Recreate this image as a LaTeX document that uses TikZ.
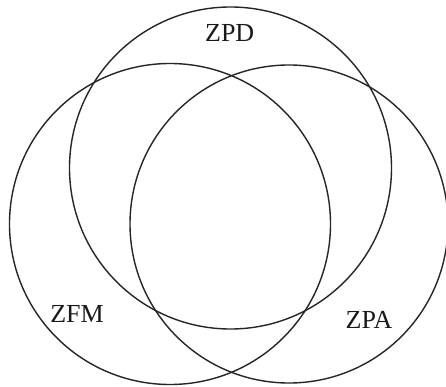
\documentclass[tikz,border=0pt]{standalone}
\usepackage{fontspec}
\setmainfont{Liberation Serif}
\begin{document}
\begin{tikzpicture}[x=1pt,y=-1pt,
  setc/.style={draw=black!85,line width=1.4pt},
  lbl/.style={font=\fontsize{26}{29}\selectfont,text=black!90,inner sep=0pt,anchor=center}]
\useasboundingbox (0,0) rectangle (446,387);
\fill[white] (0,0) rectangle (446,387);
\coordinate (cD) at (230.5,168);
\coordinate (cM) at (170,224);
\coordinate (cA) at (289,224);
\draw[setc] (cD) circle[radius=161];
\draw[setc] (cM) circle[radius=160.5];
\draw[setc] (cA) circle[radius=159];
\node[lbl] (zpd) at (229.7,33) {ZPD};
\node[lbl] (zfm) at (77,313.7) {ZFM};
\node[lbl] (zpa) at (369,319.7) {ZPA};
\end{tikzpicture}
\end{document}
